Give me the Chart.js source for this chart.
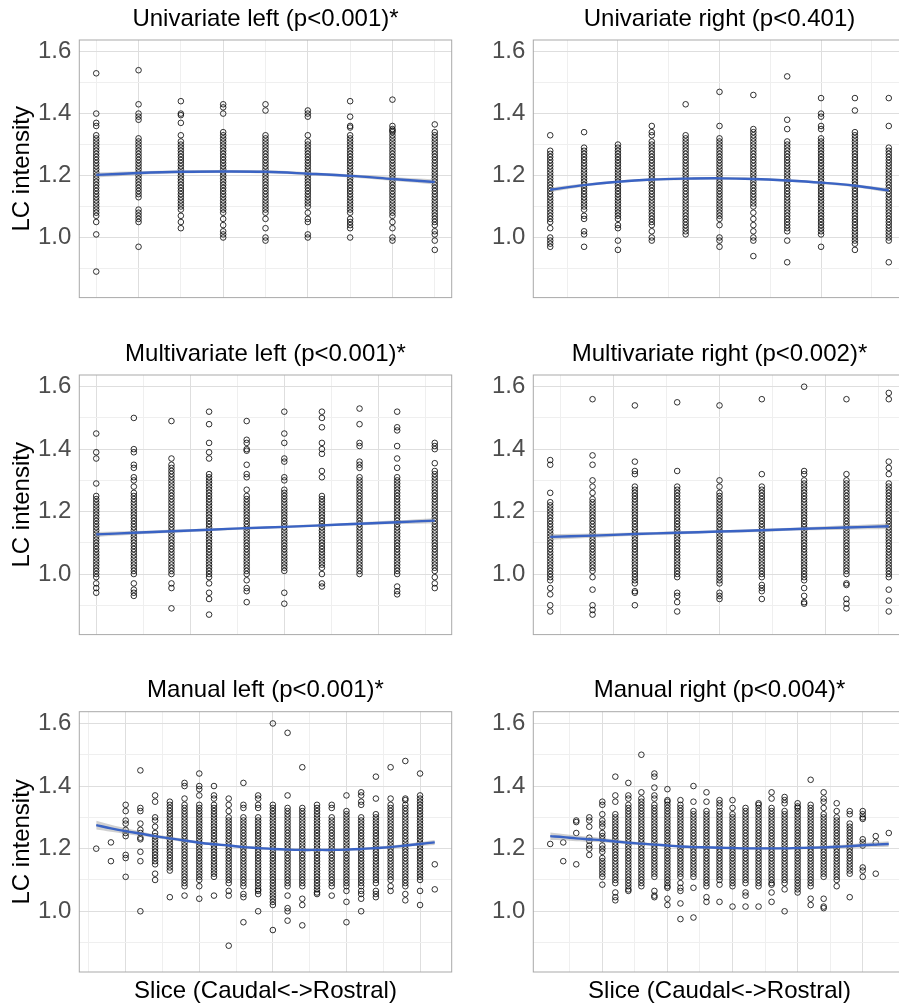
<!DOCTYPE html>
<html>
<head>
<meta charset="utf-8">
<script src="https://cdn.jsdelivr.net/npm/chart.js@4.4.1/dist/chart.umd.min.js"></script>
<style>
  html, body { margin: 0; padding: 0; background: #fff; width: 899px; height: 1005px; overflow: hidden; }
  canvas { position: absolute; }
</style>
</head>
<body>
<canvas id="c-uni-left" width="531" height="320" style="left:0px;top:0px"></canvas>
<canvas id="c-uni-right" width="531" height="320" style="left:454px;top:0px"></canvas>
<canvas id="c-multi-left" width="531" height="322" style="left:0px;top:335px"></canvas>
<canvas id="c-multi-right" width="531" height="322" style="left:454px;top:335px"></canvas>
<canvas id="c-manual-left" width="531" height="333" style="left:0px;top:672px"></canvas>
<canvas id="c-manual-right" width="531" height="333" style="left:454px;top:672px"></canvas>
<script>
// ---------------- data ----------------
// LC intensity per slice (one inner list per slice, caudal -> rostral)

const uniLeftSlices = [
  [1.53,1.40,1.37,1.36,1.33,1.32,1.31,1.30,1.29,1.28,1.27,1.26,1.25,1.24,1.23,1.22,1.21,1.20,1.19,1.18,1.17,1.16,1.15,1.14,1.13,1.12,1.11,1.10,1.09,1.08,1.07,1.05,1.01,0.89],
  [1.54,1.43,1.40,1.39,1.38,1.32,1.31,1.30,1.29,1.28,1.27,1.26,1.25,1.24,1.23,1.22,1.21,1.20,1.19,1.18,1.17,1.16,1.15,1.14,1.13,1.09,1.08,1.07,1.06,1.05,0.97],
  [1.44,1.40,1.395,1.37,1.33,1.31,1.30,1.29,1.28,1.27,1.26,1.25,1.24,1.23,1.22,1.21,1.20,1.19,1.18,1.17,1.16,1.15,1.14,1.13,1.12,1.11,1.10,1.09,1.07,1.05,1.03],
  [1.43,1.42,1.40,1.34,1.33,1.32,1.31,1.30,1.29,1.28,1.27,1.26,1.25,1.24,1.23,1.22,1.21,1.20,1.19,1.18,1.17,1.16,1.15,1.14,1.13,1.12,1.11,1.10,1.09,1.08,1.06,1.04,1.02,1.01,1.00],
  [1.43,1.41,1.33,1.32,1.31,1.30,1.29,1.28,1.27,1.26,1.25,1.24,1.23,1.22,1.21,1.20,1.19,1.18,1.17,1.16,1.15,1.14,1.13,1.12,1.11,1.10,1.09,1.08,1.06,1.03,1.00,0.99],
  [1.41,1.40,1.39,1.33,1.31,1.30,1.29,1.28,1.27,1.26,1.25,1.24,1.23,1.22,1.21,1.20,1.19,1.18,1.17,1.16,1.15,1.14,1.13,1.12,1.11,1.10,1.08,1.06,1.05,1.01,1.00],
  [1.44,1.39,1.36,1.355,1.33,1.32,1.31,1.30,1.29,1.28,1.27,1.26,1.25,1.24,1.23,1.22,1.21,1.20,1.19,1.18,1.17,1.16,1.15,1.14,1.13,1.12,1.11,1.10,1.09,1.08,1.06,1.05,1.04,1.03,1.00],
  [1.445,1.36,1.35,1.345,1.34,1.33,1.32,1.31,1.30,1.29,1.28,1.27,1.26,1.25,1.24,1.23,1.22,1.21,1.20,1.19,1.18,1.17,1.16,1.15,1.14,1.13,1.12,1.11,1.10,1.09,1.08,1.07,1.05,1.03,1.00,0.99],
  [1.365,1.34,1.33,1.32,1.31,1.30,1.29,1.28,1.27,1.26,1.25,1.24,1.23,1.22,1.21,1.20,1.19,1.18,1.17,1.16,1.15,1.14,1.13,1.12,1.11,1.10,1.09,1.08,1.07,1.06,1.05,1.04,1.02,1.01,0.99,0.96]
];
const uniLeftFit  = [1.202,1.208,1.212,1.213,1.212,1.206,1.199,1.189,1.179];
const uniLeftBand = [0.008,0.006,0.005,0.005,0.005,0.005,0.005,0.006,0.008];

const uniRightSlices = [
  [1.33,1.28,1.27,1.26,1.25,1.24,1.23,1.22,1.21,1.20,1.19,1.18,1.17,1.16,1.15,1.14,1.13,1.12,1.11,1.10,1.09,1.08,1.07,1.06,1.05,1.03,1.00,0.99,0.98,0.97],
  [1.34,1.29,1.28,1.27,1.26,1.25,1.24,1.23,1.22,1.21,1.20,1.19,1.18,1.17,1.16,1.15,1.14,1.13,1.12,1.11,1.10,1.09,1.07,1.06,1.02,1.01,0.97],
  [1.30,1.29,1.28,1.27,1.26,1.25,1.24,1.23,1.22,1.21,1.20,1.19,1.18,1.17,1.16,1.15,1.14,1.13,1.12,1.11,1.10,1.09,1.08,1.07,1.06,1.04,1.03,0.99,0.96],
  [1.36,1.34,1.33,1.31,1.30,1.29,1.28,1.27,1.26,1.25,1.24,1.23,1.22,1.21,1.20,1.19,1.18,1.17,1.16,1.15,1.14,1.13,1.12,1.11,1.10,1.09,1.08,1.07,1.06,1.05,1.04,1.02,1.00,0.99],
  [1.43,1.33,1.32,1.31,1.30,1.29,1.28,1.27,1.26,1.25,1.24,1.23,1.22,1.21,1.20,1.19,1.18,1.17,1.16,1.15,1.14,1.13,1.12,1.11,1.10,1.09,1.08,1.07,1.06,1.05,1.04,1.03,1.02,1.01],
  [1.47,1.36,1.32,1.31,1.30,1.29,1.28,1.27,1.26,1.25,1.24,1.23,1.22,1.21,1.20,1.19,1.18,1.17,1.16,1.15,1.14,1.13,1.12,1.11,1.10,1.09,1.08,1.07,1.06,1.04,1.00,0.99,0.97],
  [1.46,1.35,1.34,1.33,1.32,1.31,1.30,1.29,1.28,1.27,1.26,1.25,1.24,1.23,1.22,1.21,1.20,1.19,1.18,1.17,1.16,1.15,1.14,1.13,1.12,1.11,1.10,1.08,1.06,1.04,1.02,1.00,0.99,0.94],
  [1.52,1.38,1.35,1.31,1.30,1.29,1.28,1.27,1.26,1.25,1.24,1.23,1.22,1.21,1.20,1.19,1.18,1.17,1.16,1.15,1.14,1.13,1.12,1.11,1.10,1.09,1.08,1.07,1.06,1.05,1.04,1.03,1.02,0.99,0.92],
  [1.45,1.40,1.39,1.36,1.35,1.32,1.31,1.30,1.29,1.28,1.27,1.26,1.25,1.24,1.23,1.22,1.21,1.20,1.19,1.18,1.17,1.16,1.15,1.14,1.13,1.12,1.11,1.10,1.09,1.08,1.07,1.06,1.05,1.04,1.03,1.02,1.01,0.97],
  [1.45,1.41,1.34,1.33,1.32,1.31,1.30,1.29,1.28,1.27,1.26,1.25,1.24,1.23,1.22,1.21,1.20,1.19,1.18,1.17,1.16,1.15,1.14,1.13,1.12,1.11,1.10,1.09,1.08,1.07,1.06,1.05,1.04,1.03,1.02,1.01,1.00,0.99,0.98,0.96],
  [1.45,1.36,1.29,1.28,1.27,1.26,1.25,1.24,1.23,1.22,1.21,1.20,1.19,1.18,1.17,1.16,1.15,1.14,1.13,1.12,1.11,1.10,1.09,1.08,1.07,1.06,1.05,1.04,1.03,1.02,1.01,1.00,0.99,0.92]
];
const uniRightFit  = [1.154,1.169,1.180,1.187,1.190,1.191,1.189,1.184,1.177,1.167,1.152];
const uniRightBand = [0.007,0.005,0.004,0.004,0.004,0.004,0.004,0.004,0.004,0.005,0.007];

const multiLeftSlices = [
  [1.45,1.39,1.37,1.29,1.25,1.24,1.23,1.22,1.21,1.20,1.19,1.18,1.17,1.16,1.15,1.14,1.13,1.12,1.11,1.10,1.09,1.08,1.07,1.06,1.05,1.04,1.03,1.02,1.01,1.00,0.99,0.97,0.955,0.94],
  [1.50,1.40,1.39,1.35,1.34,1.31,1.30,1.28,1.26,1.25,1.24,1.23,1.22,1.21,1.20,1.19,1.18,1.17,1.16,1.15,1.14,1.13,1.12,1.11,1.10,1.09,1.08,1.07,1.06,1.05,1.04,1.03,1.02,1.01,1.00,0.97,0.95,0.94,0.93],
  [1.49,1.37,1.35,1.34,1.33,1.32,1.31,1.30,1.29,1.28,1.27,1.26,1.25,1.24,1.23,1.22,1.21,1.20,1.19,1.18,1.17,1.16,1.15,1.14,1.13,1.12,1.11,1.10,1.09,1.08,1.07,1.06,1.05,1.04,1.03,1.02,1.01,1.00,0.97,0.955,0.89],
  [1.52,1.48,1.42,1.39,1.37,1.32,1.31,1.30,1.29,1.28,1.27,1.26,1.25,1.24,1.23,1.22,1.21,1.20,1.19,1.18,1.17,1.16,1.15,1.14,1.13,1.12,1.11,1.10,1.09,1.08,1.07,1.06,1.05,1.04,1.03,1.02,1.01,1.00,0.99,0.97,0.94,0.92,0.87],
  [1.49,1.43,1.42,1.40,1.395,1.35,1.32,1.31,1.27,1.25,1.24,1.23,1.22,1.21,1.20,1.19,1.18,1.17,1.16,1.15,1.14,1.13,1.12,1.11,1.10,1.09,1.08,1.07,1.06,1.05,1.04,1.03,1.02,1.01,1.00,0.98,0.955,0.945,0.91],
  [1.52,1.45,1.42,1.37,1.36,1.31,1.30,1.27,1.26,1.25,1.24,1.23,1.22,1.21,1.20,1.19,1.18,1.17,1.16,1.15,1.14,1.13,1.12,1.11,1.10,1.09,1.08,1.07,1.06,1.05,1.04,1.03,1.02,1.01,0.94,0.905],
  [1.52,1.50,1.47,1.42,1.40,1.385,1.33,1.31,1.25,1.24,1.23,1.22,1.21,1.20,1.19,1.18,1.17,1.16,1.15,1.14,1.13,1.12,1.11,1.10,1.09,1.08,1.07,1.06,1.05,1.04,1.03,1.02,1.00,0.97,0.96],
  [1.53,1.48,1.42,1.41,1.36,1.35,1.34,1.31,1.30,1.29,1.28,1.27,1.26,1.25,1.24,1.23,1.22,1.21,1.20,1.19,1.18,1.17,1.16,1.15,1.14,1.13,1.12,1.11,1.10,1.09,1.08,1.07,1.06,1.05,1.04,1.03,1.02,1.01,1.00],
  [1.52,1.47,1.46,1.41,1.37,1.34,1.31,1.30,1.29,1.28,1.27,1.26,1.25,1.24,1.23,1.22,1.21,1.20,1.19,1.18,1.17,1.16,1.15,1.14,1.13,1.12,1.11,1.10,1.09,1.08,1.07,1.06,1.05,1.04,1.03,1.02,1.01,1.00,0.96,0.945,0.935],
  [1.42,1.41,1.40,1.355,1.33,1.32,1.31,1.30,1.29,1.28,1.27,1.26,1.25,1.24,1.23,1.22,1.21,1.20,1.19,1.18,1.17,1.16,1.15,1.14,1.13,1.12,1.11,1.10,1.09,1.08,1.07,1.06,1.05,1.04,1.03,1.02,1.01,0.99,0.97,0.955]
];
const multiLeftFit  = [1.127,1.132,1.137,1.142,1.147,1.151,1.156,1.161,1.166,1.171];
const multiLeftBand = [0.008,0.006,0.005,0.004,0.004,0.004,0.004,0.005,0.006,0.008];

const multiRightSlices = [
  [1.365,1.35,1.26,1.23,1.22,1.21,1.20,1.19,1.18,1.17,1.16,1.15,1.14,1.13,1.12,1.11,1.10,1.09,1.08,1.07,1.06,1.05,1.04,1.03,1.02,1.01,1.00,0.99,0.98,0.955,0.935,0.90,0.88],
  [1.56,1.38,1.35,1.30,1.28,1.26,1.24,1.23,1.22,1.21,1.20,1.19,1.18,1.17,1.16,1.15,1.14,1.13,1.12,1.11,1.10,1.09,1.08,1.07,1.06,1.05,1.04,1.03,1.02,1.01,0.99,0.95,0.90,0.885,0.87],
  [1.54,1.36,1.33,1.32,1.28,1.27,1.26,1.25,1.24,1.23,1.22,1.21,1.20,1.19,1.18,1.17,1.16,1.15,1.14,1.13,1.12,1.11,1.10,1.09,1.08,1.07,1.06,1.05,1.04,1.03,1.02,1.01,1.00,0.99,0.98,0.97,0.945,0.94,0.90],
  [1.55,1.33,1.28,1.27,1.26,1.25,1.24,1.23,1.22,1.21,1.20,1.19,1.18,1.17,1.16,1.15,1.14,1.13,1.12,1.11,1.10,1.09,1.08,1.07,1.06,1.05,1.04,1.03,1.02,1.01,1.00,0.99,0.94,0.93,0.91,0.88],
  [1.54,1.30,1.28,1.26,1.25,1.24,1.23,1.22,1.21,1.20,1.19,1.18,1.17,1.16,1.15,1.14,1.13,1.12,1.11,1.10,1.09,1.08,1.07,1.06,1.05,1.04,1.03,1.02,1.01,1.00,0.99,0.98,0.97,0.94,0.93,0.92],
  [1.56,1.32,1.28,1.27,1.26,1.25,1.24,1.23,1.22,1.21,1.20,1.19,1.18,1.17,1.16,1.15,1.14,1.13,1.12,1.11,1.10,1.09,1.08,1.07,1.06,1.05,1.04,1.03,1.02,1.01,1.00,0.99,0.965,0.955,0.945,0.92],
  [1.60,1.33,1.32,1.30,1.29,1.28,1.27,1.26,1.25,1.24,1.23,1.22,1.21,1.20,1.19,1.18,1.17,1.16,1.15,1.14,1.13,1.12,1.11,1.10,1.09,1.08,1.07,1.06,1.05,1.04,1.03,1.02,1.01,1.00,0.99,0.98,0.955,0.93,0.91,0.905],
  [1.56,1.32,1.30,1.29,1.28,1.27,1.26,1.25,1.24,1.23,1.22,1.21,1.20,1.19,1.18,1.17,1.16,1.15,1.14,1.13,1.12,1.11,1.10,1.09,1.08,1.07,1.06,1.05,1.04,1.03,1.02,1.01,1.00,0.97,0.965,0.92,0.905,0.89],
  [1.58,1.56,1.36,1.34,1.32,1.29,1.28,1.27,1.26,1.25,1.24,1.23,1.22,1.21,1.20,1.19,1.18,1.17,1.16,1.15,1.14,1.13,1.12,1.11,1.10,1.09,1.08,1.07,1.06,1.05,1.04,1.03,1.02,1.01,1.00,0.99,0.95,0.915,0.88]
];
const multiRightFit  = [1.119,1.123,1.128,1.132,1.136,1.140,1.145,1.149,1.153];
const multiRightBand = [0.009,0.007,0.005,0.005,0.004,0.005,0.005,0.007,0.009];

const manualLeftSlices = [
  [1.20],
  [1.22,1.16],
  [1.34,1.32,1.29,1.28,1.26,1.25,1.24,1.18,1.17,1.11],
  [1.45,1.33,1.32,1.28,1.26,1.25,1.235,1.23,1.19,1.16,1.00],
  [1.37,1.35,1.30,1.29,1.27,1.25,1.24,1.23,1.22,1.21,1.20,1.19,1.18,1.17,1.16,1.15,1.12,1.10],
  [1.35,1.34,1.33,1.32,1.31,1.30,1.29,1.28,1.27,1.26,1.25,1.24,1.23,1.22,1.21,1.20,1.19,1.18,1.17,1.16,1.15,1.14,1.13,1.045],
  [1.41,1.40,1.36,1.34,1.33,1.32,1.31,1.30,1.29,1.28,1.27,1.26,1.25,1.24,1.23,1.22,1.21,1.20,1.19,1.18,1.17,1.16,1.15,1.14,1.13,1.12,1.11,1.10,1.09,1.08,1.05],
  [1.44,1.40,1.39,1.37,1.34,1.33,1.32,1.31,1.30,1.29,1.28,1.27,1.26,1.25,1.24,1.23,1.22,1.21,1.20,1.19,1.18,1.17,1.16,1.15,1.14,1.13,1.12,1.11,1.10,1.08,1.04],
  [1.40,1.37,1.36,1.34,1.33,1.32,1.31,1.30,1.29,1.28,1.27,1.26,1.25,1.24,1.23,1.22,1.21,1.20,1.19,1.18,1.17,1.16,1.15,1.14,1.13,1.12,1.11,1.05],
  [1.36,1.34,1.32,1.30,1.29,1.28,1.27,1.26,1.25,1.24,1.23,1.22,1.21,1.20,1.19,1.18,1.17,1.16,1.15,1.14,1.13,1.12,1.11,1.10,1.09,1.065,1.05,0.89],
  [1.41,1.34,1.33,1.30,1.29,1.28,1.27,1.26,1.25,1.24,1.23,1.22,1.21,1.20,1.19,1.18,1.17,1.16,1.15,1.14,1.13,1.12,1.11,1.10,1.09,1.08,1.055,1.045,0.965],
  [1.37,1.36,1.34,1.33,1.30,1.29,1.28,1.27,1.26,1.25,1.24,1.23,1.22,1.21,1.20,1.19,1.18,1.17,1.16,1.15,1.14,1.13,1.12,1.11,1.10,1.09,1.08,1.07,1.065,1.055,1.00],
  [1.60,1.34,1.33,1.32,1.31,1.30,1.29,1.28,1.27,1.26,1.25,1.24,1.23,1.22,1.21,1.20,1.19,1.18,1.17,1.16,1.15,1.14,1.13,1.12,1.11,1.10,1.09,1.08,1.07,1.06,1.05,1.04,1.03,1.02,0.94],
  [1.57,1.37,1.33,1.32,1.31,1.30,1.29,1.28,1.27,1.26,1.25,1.24,1.23,1.22,1.21,1.20,1.19,1.18,1.17,1.16,1.15,1.14,1.13,1.12,1.11,1.10,1.09,1.08,1.05,1.01,1.00,0.97],
  [1.46,1.33,1.32,1.31,1.30,1.29,1.28,1.27,1.26,1.25,1.24,1.23,1.22,1.21,1.20,1.19,1.18,1.17,1.16,1.15,1.14,1.13,1.12,1.11,1.10,1.09,1.08,1.04,1.02,0.955],
  [1.34,1.33,1.32,1.31,1.30,1.29,1.28,1.27,1.26,1.25,1.24,1.23,1.22,1.21,1.20,1.19,1.18,1.17,1.16,1.15,1.14,1.13,1.12,1.11,1.10,1.09,1.08,1.07,1.06,1.055],
  [1.34,1.33,1.30,1.29,1.28,1.27,1.26,1.25,1.24,1.23,1.22,1.21,1.20,1.19,1.18,1.17,1.16,1.15,1.14,1.13,1.12,1.11,1.10,1.09,1.08,1.05],
  [1.37,1.32,1.31,1.30,1.29,1.28,1.27,1.26,1.25,1.24,1.23,1.22,1.21,1.20,1.19,1.18,1.17,1.16,1.15,1.14,1.13,1.12,1.11,1.10,1.09,1.08,1.065,1.03,0.965],
  [1.38,1.37,1.35,1.34,1.30,1.29,1.28,1.27,1.26,1.25,1.24,1.23,1.22,1.21,1.20,1.19,1.18,1.17,1.16,1.15,1.14,1.13,1.12,1.11,1.10,1.09,1.08,1.065,1.055,1.04,1.00],
  [1.43,1.36,1.31,1.30,1.29,1.28,1.27,1.26,1.25,1.24,1.23,1.22,1.21,1.20,1.19,1.18,1.17,1.16,1.15,1.14,1.13,1.12,1.11,1.10,1.09,1.065,1.055,1.045],
  [1.46,1.36,1.34,1.33,1.32,1.31,1.30,1.29,1.28,1.27,1.26,1.25,1.24,1.23,1.22,1.21,1.20,1.19,1.18,1.17,1.16,1.15,1.14,1.13,1.12,1.11,1.10,1.08,1.065],
  [1.48,1.36,1.355,1.34,1.33,1.32,1.31,1.30,1.29,1.28,1.27,1.26,1.25,1.24,1.23,1.22,1.21,1.20,1.19,1.18,1.17,1.16,1.15,1.14,1.13,1.12,1.11,1.10,1.09,1.08,1.055,1.035],
  [1.44,1.37,1.36,1.35,1.34,1.33,1.32,1.31,1.30,1.29,1.28,1.27,1.26,1.25,1.24,1.23,1.22,1.21,1.20,1.19,1.18,1.17,1.16,1.15,1.14,1.13,1.12,1.11,1.10,1.065,1.02],
  [1.15,1.07]
];
const manualLeftFit  = [1.275,1.265,1.256,1.248,1.240,1.233,1.226,1.219,1.214,1.210,1.205,1.202,1.199,1.197,1.196,1.196,1.196,1.197,1.199,1.202,1.205,1.210,1.215,1.220];
const manualLeftBand = [0.014,0.011,0.009,0.007,0.006,0.005,0.005,0.004,0.004,0.004,0.004,0.004,0.004,0.004,0.004,0.004,0.004,0.004,0.004,0.004,0.005,0.005,0.006,0.008];

const manualRightSlices = [
  [1.215],
  [1.22,1.16],
  [1.29,1.285,1.25,1.15],
  [1.30,1.29,1.27,1.235,1.225,1.21,1.20,1.18],
  [1.35,1.34,1.31,1.29,1.28,1.27,1.25,1.24,1.23,1.21,1.20,1.19,1.17,1.16,1.15,1.14,1.13,1.12,1.11,1.085],
  [1.43,1.37,1.35,1.31,1.30,1.29,1.28,1.27,1.26,1.25,1.24,1.23,1.22,1.21,1.20,1.19,1.18,1.17,1.16,1.15,1.14,1.13,1.12,1.11,1.10,1.09,1.06,1.045,1.035],
  [1.41,1.37,1.36,1.34,1.33,1.32,1.31,1.30,1.29,1.28,1.27,1.26,1.25,1.24,1.23,1.22,1.21,1.20,1.19,1.18,1.17,1.16,1.15,1.14,1.13,1.12,1.11,1.10,1.09,1.08,1.07,1.065],
  [1.50,1.38,1.36,1.35,1.34,1.33,1.32,1.31,1.30,1.29,1.28,1.27,1.26,1.25,1.24,1.23,1.22,1.21,1.20,1.19,1.18,1.17,1.16,1.15,1.14,1.13,1.12,1.11,1.10,1.09,1.08],
  [1.44,1.43,1.395,1.37,1.36,1.34,1.33,1.32,1.31,1.30,1.29,1.28,1.27,1.26,1.25,1.24,1.23,1.22,1.21,1.20,1.19,1.18,1.17,1.16,1.15,1.14,1.13,1.12,1.11,1.065,1.05,1.045],
  [1.39,1.355,1.35,1.34,1.33,1.32,1.31,1.30,1.29,1.28,1.27,1.26,1.25,1.24,1.23,1.22,1.21,1.20,1.19,1.18,1.17,1.16,1.15,1.14,1.13,1.12,1.11,1.10,1.09,1.08,1.075,1.04,1.02],
  [1.355,1.34,1.33,1.32,1.31,1.30,1.29,1.28,1.27,1.26,1.25,1.24,1.23,1.22,1.21,1.20,1.19,1.18,1.17,1.16,1.15,1.14,1.13,1.12,1.11,1.09,1.075,1.065,1.025,0.975],
  [1.40,1.35,1.32,1.31,1.30,1.29,1.28,1.27,1.26,1.25,1.24,1.23,1.22,1.21,1.20,1.19,1.18,1.17,1.16,1.15,1.14,1.13,1.12,1.11,1.075,0.98],
  [1.38,1.35,1.32,1.31,1.30,1.29,1.28,1.27,1.26,1.25,1.24,1.23,1.22,1.21,1.20,1.19,1.18,1.17,1.16,1.15,1.14,1.13,1.12,1.11,1.10,1.09,1.08,1.045,1.03],
  [1.355,1.345,1.335,1.32,1.31,1.30,1.29,1.28,1.27,1.26,1.25,1.24,1.23,1.22,1.21,1.20,1.19,1.18,1.17,1.16,1.15,1.14,1.13,1.12,1.11,1.10,1.085,1.03],
  [1.355,1.33,1.31,1.30,1.29,1.28,1.27,1.26,1.25,1.24,1.23,1.22,1.21,1.20,1.19,1.18,1.17,1.16,1.15,1.14,1.13,1.12,1.11,1.10,1.09,1.08,1.015],
  [1.33,1.32,1.31,1.30,1.29,1.28,1.27,1.26,1.25,1.24,1.23,1.22,1.21,1.20,1.19,1.18,1.17,1.16,1.15,1.14,1.13,1.12,1.11,1.10,1.09,1.06,1.05,1.015],
  [1.345,1.34,1.33,1.32,1.31,1.30,1.29,1.28,1.27,1.26,1.25,1.24,1.23,1.22,1.21,1.20,1.19,1.18,1.17,1.16,1.15,1.14,1.13,1.12,1.11,1.10,1.09,1.08,1.015],
  [1.38,1.36,1.33,1.32,1.31,1.30,1.29,1.28,1.27,1.26,1.25,1.24,1.23,1.22,1.21,1.20,1.19,1.18,1.17,1.16,1.15,1.14,1.13,1.12,1.11,1.10,1.09,1.085,1.06,1.03],
  [1.365,1.355,1.345,1.32,1.31,1.30,1.29,1.28,1.27,1.26,1.25,1.24,1.23,1.22,1.21,1.20,1.19,1.18,1.17,1.16,1.15,1.14,1.13,1.12,1.11,1.10,1.09,1.07,1.00],
  [1.345,1.335,1.33,1.32,1.31,1.30,1.29,1.28,1.27,1.26,1.25,1.24,1.23,1.22,1.21,1.20,1.19,1.18,1.17,1.16,1.15,1.14,1.13,1.12,1.11,1.10,1.09,1.08,1.07,1.06],
  [1.42,1.34,1.33,1.32,1.31,1.30,1.29,1.28,1.27,1.26,1.25,1.24,1.23,1.22,1.21,1.20,1.19,1.18,1.17,1.16,1.15,1.14,1.13,1.12,1.11,1.10,1.09,1.08,1.04,1.02],
  [1.38,1.36,1.35,1.33,1.31,1.30,1.29,1.28,1.27,1.26,1.25,1.24,1.23,1.22,1.21,1.20,1.19,1.18,1.17,1.16,1.15,1.14,1.13,1.12,1.11,1.04,1.015,1.01],
  [1.345,1.32,1.30,1.29,1.28,1.27,1.26,1.25,1.24,1.23,1.22,1.21,1.20,1.19,1.18,1.17,1.16,1.15,1.14,1.13,1.12,1.11,1.10,1.08],
  [1.32,1.31,1.28,1.27,1.26,1.25,1.24,1.23,1.22,1.21,1.20,1.19,1.18,1.17,1.16,1.15,1.14,1.13,1.12,1.045],
  [1.32,1.31,1.30,1.295,1.23,1.22,1.21,1.14,1.13,1.11],
  [1.24,1.22,1.12],
  [1.25]
];
const manualRightFit  = [1.240,1.237,1.233,1.230,1.227,1.223,1.219,1.216,1.213,1.210,1.207,1.205,1.204,1.203,1.202,1.201,1.201,1.201,1.201,1.202,1.203,1.204,1.206,1.208,1.211,1.213,1.215];
const manualRightBand = [0.012,0.010,0.009,0.008,0.007,0.006,0.005,0.005,0.004,0.004,0.004,0.004,0.004,0.004,0.004,0.004,0.004,0.004,0.004,0.004,0.004,0.005,0.005,0.006,0.007,0.008,0.009];

// panel titles
const titles = [
  'Univariate left (p<0.001)*',
  'Univariate right (p<0.401)',
  'Multivariate left (p<0.001)*',
  'Multivariate right (p<0.002)*',
  'Manual left (p<0.001)*',
  'Manual right (p<0.004)*'
];
const yAxisTitle = 'LC intensity';
const xAxisTitle = 'Slice (Caudal<->Rostral)';

// y axis breaks shared by all panels
const yMajorBreaks = [1.0, 1.2, 1.4, 1.6];
const yMinorBreaks = [0.9, 1.1, 1.3, 1.5];
const yLimits = [0.806, 1.6375];

// x breaks per panel, in slice-index units
const uniLeftXMajor = [1, 3, 5, 7];           const uniLeftXMinor = [0, 2, 4, 6, 8];
const uniRightXMajor = [2, 5, 8];             const uniRightXMinor = [0.5, 3.5, 6.5, 9.5];
const multiLeftXMajor = [0, 2.5, 5, 7.5];     const multiLeftXMinor = [1.25, 3.75, 6.25, 8.75];
const multiRightXMajor = [1.5, 4, 6.5];       const multiRightXMinor = [0.25, 2.75, 5.25, 7.75];
const manualLeftXMajor = [2, 7, 12, 17, 22];  const manualLeftXMinor = [-0.5, 4.5, 9.5, 14.5, 19.5];
const manualRightXMajor = [4, 9, 14, 19, 24]; const manualRightXMinor = [1.5, 6.5, 11.5, 16.5, 21.5];

// ---------------- drawing ----------------
const FONT = '"Liberation Sans", Arial, Helvetica, sans-serif';
const GRID_MAJOR = '#dedede';
const GRID_MINOR = '#efefef';
const near = (a, list) => list.some(v => Math.abs(v - a) < 1e-6);

// frame + titles drawn around the plotting area
const panelDecor = {
  id: 'panelDecor',
  afterDraw(chart, args, opts) {
    const { ctx, chartArea: a } = chart;
    ctx.save();
    ctx.strokeStyle = '#a9a9a9';
    ctx.lineWidth = 1;
    ctx.strokeRect(a.left, a.top, a.right - a.left, a.bottom - a.top);
    ctx.fillStyle = '#000';
    ctx.font = '24px ' + FONT;
    ctx.textAlign = 'center';
    ctx.textBaseline = 'middle';
    ctx.fillText(opts.title, (a.left + a.right) / 2, a.top - 21);
    if (opts.xTitle) {
      ctx.fillText(opts.xTitle, (a.left + a.right) / 2, a.bottom + 19);
    }
    if (opts.yTitle) {
      ctx.translate(22, (a.top + a.bottom) / 2);
      ctx.rotate(-Math.PI / 2);
      ctx.fillText(opts.yTitle, 0, 0);
    }
    ctx.restore();
  }
};

function drawPanel(canvasId, p) {
  const points = [];
  p.slices.forEach((col, i) => col.forEach(v => points.push({ x: i, y: v })));
  const fitPts = p.fit.map((v, i) => ({ x: i, y: v }));
  const lowPts = p.fit.map((v, i) => ({ x: i, y: v - p.band[i] }));
  const highPts = p.fit.map((v, i) => ({ x: i, y: v + p.band[i] }));
  const xTicks = p.xMajor.concat(p.xMinor).sort((a, b) => a - b);
  const yTicks = yMajorBreaks.concat(yMinorBreaks).sort((a, b) => a - b);
  const nCols = p.slices.length;
  const expand = (nCols - 1) * 0.05;

  new Chart(document.getElementById(canvasId), {
    type: 'scatter',
    data: {
      datasets: [
        {
          type: 'line', data: fitPts, order: 1,
          borderColor: '#3a63c4', borderWidth: 2.4,
          pointRadius: 0, tension: 0.35, fill: false
        },
        {
          type: 'line', data: lowPts, order: 2,
          borderWidth: 0, borderColor: 'rgba(0,0,0,0)',
          pointRadius: 0, tension: 0.35, fill: false
        },
        {
          type: 'line', data: highPts, order: 2,
          borderWidth: 0, borderColor: 'rgba(0,0,0,0)',
          pointRadius: 0, tension: 0.35,
          fill: '-1', backgroundColor: 'rgba(150,150,150,0.45)'
        },
        {
          data: points, order: 3,
          pointStyle: 'circle', pointRadius: 2.8,
          borderColor: 'rgba(0,0,0,0.85)', borderWidth: 0.95,
          backgroundColor: 'rgba(0,0,0,0)'
        }
      ]
    },
    options: {
      responsive: false,
      animation: false,
      events: [],
      layout: { padding: { left: 0, right: 79.3, top: p.padTop, bottom: p.padBottom } },
      plugins: {
        legend: { display: false },
        tooltip: { enabled: false },
        panelDecor: { title: p.title, yTitle: p.yTitle, xTitle: p.xTitle }
      },
      scales: {
        x: {
          type: 'linear',
          min: -expand, max: nCols - 1 + expand,
          bounds: 'data',
          afterBuildTicks: s => { s.ticks = xTicks.map(v => ({ value: v })); },
          ticks: { display: false },
          border: { display: false },
          grid: {
            drawTicks: false,
            lineWidth: 1,
            color: c => near(c.tick.value, p.xMajor) ? GRID_MAJOR : GRID_MINOR
          }
        },
        y: {
          type: 'linear',
          min: yLimits[0], max: yLimits[1],
          bounds: 'data',
          afterBuildTicks: s => { s.ticks = yTicks.map(v => ({ value: v })); },
          afterFit: s => { s.width = 79.3; },
          ticks: {
            autoSkip: false,
            padding: 8,
            color: '#4d4d4d',
            font: { family: FONT, size: 24 },
            callback: v => near(v, yMajorBreaks) ? v.toFixed(1) : ''
          },
          border: { display: false },
          grid: {
            drawTicks: false,
            lineWidth: 1,
            color: c => near(c.tick.value, yMajorBreaks) ? GRID_MAJOR : GRID_MINOR
          }
        }
      }
    },
    plugins: [panelDecor]
  });
}

drawPanel('c-uni-left', {
  slices: uniLeftSlices, fit: uniLeftFit, band: uniLeftBand,
  xMajor: uniLeftXMajor, xMinor: uniLeftXMinor,
  title: titles[0], yTitle: yAxisTitle, padTop: 40, padBottom: 20
});
drawPanel('c-uni-right', {
  slices: uniRightSlices, fit: uniRightFit, band: uniRightBand,
  xMajor: uniRightXMajor, xMinor: uniRightXMinor,
  title: titles[1], padTop: 40, padBottom: 20
});
drawPanel('c-multi-left', {
  slices: multiLeftSlices, fit: multiLeftFit, band: multiLeftBand,
  xMajor: multiLeftXMajor, xMinor: multiLeftXMinor,
  title: titles[2], yTitle: yAxisTitle, padTop: 40, padBottom: 20.5
});
drawPanel('c-multi-right', {
  slices: multiRightSlices, fit: multiRightFit, band: multiRightBand,
  xMajor: multiRightXMajor, xMinor: multiRightXMinor,
  title: titles[3], padTop: 40, padBottom: 20.5
});
drawPanel('c-manual-left', {
  slices: manualLeftSlices, fit: manualLeftFit, band: manualLeftBand,
  xMajor: manualLeftXMajor, xMinor: manualLeftXMinor,
  title: titles[4], yTitle: yAxisTitle, xTitle: xAxisTitle, padTop: 39.7, padBottom: 33
});
drawPanel('c-manual-right', {
  slices: manualRightSlices, fit: manualRightFit, band: manualRightBand,
  xMajor: manualRightXMajor, xMinor: manualRightXMinor,
  title: titles[5], xTitle: xAxisTitle, padTop: 39.7, padBottom: 33
});
</script>
